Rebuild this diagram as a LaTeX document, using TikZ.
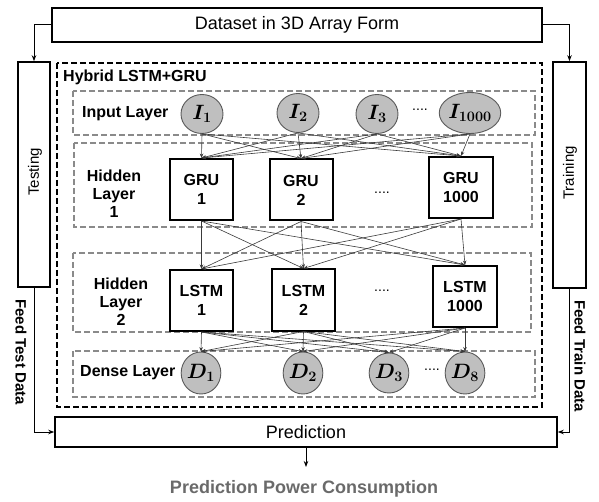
\documentclass[tikz,border=0pt]{standalone}
\usepackage{fontspec}
\setmainfont{Liberation Sans}
\usepackage{bm}
\usetikzlibrary{arrows.meta,shapes.geometric}
\definecolor{linkgray}{HTML}{3A3A3A}
\definecolor{framegray}{HTML}{8A8A8A}
\definecolor{unitfill}{HTML}{BFBFBF}
\definecolor{unitedge}{HTML}{5A5A5A}
\definecolor{outgray}{HTML}{6A6A6A}
\tikzset{
  flowbox/.style={draw=black, line width=1.6pt, inner sep=0pt},
  layerframe/.style={draw=framegray, line width=1.3pt, dash pattern=on 6pt off 3pt},
  hybridframe/.style={draw=black, line width=1.7pt, dash pattern=on 6pt off 3pt},
  cellbox/.style={draw=black, line width=2pt, minimum width=63pt, minimum height=61pt,
    inner sep=0pt, align=center, font=\fontsize{16}{19}\selectfont\bfseries},
  unit/.style={ellipse, draw=unitedge, line width=0.9pt, fill=unitfill, inner sep=0pt,
    minimum width=42pt, minimum height=39pt, font=\fontsize{20}{24}\selectfont},
  link/.style={draw=linkgray, line width=0.6pt, -{Stealth[length=4.5pt,width=3.5pt]}},
  flow/.style={draw=black, line width=1pt, -{Stealth[length=6pt,width=4.5pt]}},
  layertext/.style={font=\fontsize{16}{18}\selectfont\bfseries, align=center, inner sep=0pt},
  dots/.style={font=\fontsize{14}{16}\selectfont, inner sep=0pt},
}
\begin{document}
\begin{tikzpicture}[x=1pt, y=-1pt]
\useasboundingbox (0,0) rectangle (599,502);

% outer data flow boxes
\node[flowbox, minimum width=490pt, minimum height=34pt, font=\fontsize{18}{21}\selectfont]
  (dataset) at (297,25) {Dataset in 3D Array Form};
\node[flowbox, minimum width=32pt, minimum height=225pt] (testing) at (34,174.5) {};
\node[rotate=90, font=\fontsize{15}{18}\selectfont] (testtxt) at (35,172) {Testing};
\node[flowbox, minimum width=33pt, minimum height=226pt] (training) at (569.5,175) {};
\node[rotate=90, font=\fontsize{15}{18}\selectfont] (traintxt) at (570,173) {Training};
\node[flowbox, minimum width=502pt, minimum height=30pt, font=\fontsize{18}{21}\selectfont]
  (prediction) at (306,432) {Prediction};

\node[rotate=-90, font=\fontsize{15}{18}\selectfont\bfseries] (feedtest) at (21,352) {Feed Test Data};
\node[rotate=-90, font=\fontsize{15}{18}\selectfont\bfseries] (feedtrain) at (580,356) {Feed Train Data};

\draw[flow] (dataset.west) -| (testing.north);
\draw[flow] (dataset.east) -| (training.north);
\draw[flow] (testing.south) |- (prediction.west);
\draw[flow] (training.south) |- (prediction.east);
\coordinate (outend) at (306,467);
\draw[flow] (prediction.south) -- (outend);
\node[font=\fontsize{18}{21}\selectfont\bfseries, text=outgray] (result) at (304,489)
  {Prediction Power Consumption};

% hybrid network frame and layer frames
\draw[hybridframe] (57,63) rectangle (542,407);
\node[anchor=west, font=\fontsize{16}{19}\selectfont\bfseries, inner sep=0pt] (hybrid) at (63,77) {Hybrid LSTM+GRU};
\draw[layerframe] (73,91) rectangle (535,135);
\draw[layerframe] (74,143) rectangle (532,227);
\draw[layerframe] (73,253) rectangle (531,332);
\draw[layerframe] (73,351) rectangle (535,397);

\node[layertext, anchor=west] (inlabel) at (82,114) {Input Layer};
\node[layertext] (h1label) at (114,194) {Hidden\\Layer\\1};
\node[layertext] (h2label) at (121,302) {Hidden\\Layer\\2};
\node[layertext, anchor=west] (dlabel) at (80,373) {Dense Layer};

% input units
\node[unit] (i1) at (202,114) {$\bm{I_{1}}$};
\node[unit] (i2) at (298,113) {$\bm{I_{2}}$};
\node[unit] (i3) at (377,114) {$\bm{I_{3}}$};
\node[unit, minimum width=55pt, minimum height=41pt] (i4) at (470,113) {$\bm{I_{1000}}$};
\node[dots] (idots) at (420,110) {....};

% GRU cells
\node[cellbox] (g1) at (201.5,189.5) {GRU\\1};
\node[cellbox] (g2) at (301,190) {GRU\\2};
\node[cellbox, minimum width=64pt] (g3) at (461,187.5) {GRU\\1000};
\node[dots] (gdots) at (382,193) {....};

% LSTM cells
\node[cellbox] (l1) at (201.5,300.5) {LSTM\\1};
\node[cellbox] (l2) at (303.5,300) {LSTM\\2};
\node[cellbox, minimum width=64pt] (l3) at (465,296.5) {LSTM\\1000};
\node[dots] (ldots) at (382,291) {....};

% dense units
\node[unit, minimum width=38pt, minimum height=42pt] (d1) at (201,373) {$\bm{D_{1}}$};
\node[unit, minimum width=38pt, minimum height=42pt] (d2) at (303,373) {$\bm{D_{2}}$};
\node[unit, minimum width=38pt, minimum height=40pt] (d3) at (389,373) {$\bm{D_{3}}$};
\node[unit, minimum width=38pt, minimum height=42pt] (d4) at (465,373) {$\bm{D_{8}}$};
\node[dots] (ddots) at (432,370) {....};

% fully connected links between layers
\foreach \s in {i1,i2,i3,i4}
  \foreach \t in {g1,g2,g3}
    \draw[link] (\s.south) -- (\t.north);
\foreach \s in {g1,g2,g3}
  \foreach \t in {l1,l2,l3}
    \draw[link] (\s.south) -- (\t.north);
\foreach \s in {l1,l2,l3}
  \foreach \t in {d1,d2,d3,d4}
    \draw[link] (\s.south) -- (\t.north);
\end{tikzpicture}
\end{document}
